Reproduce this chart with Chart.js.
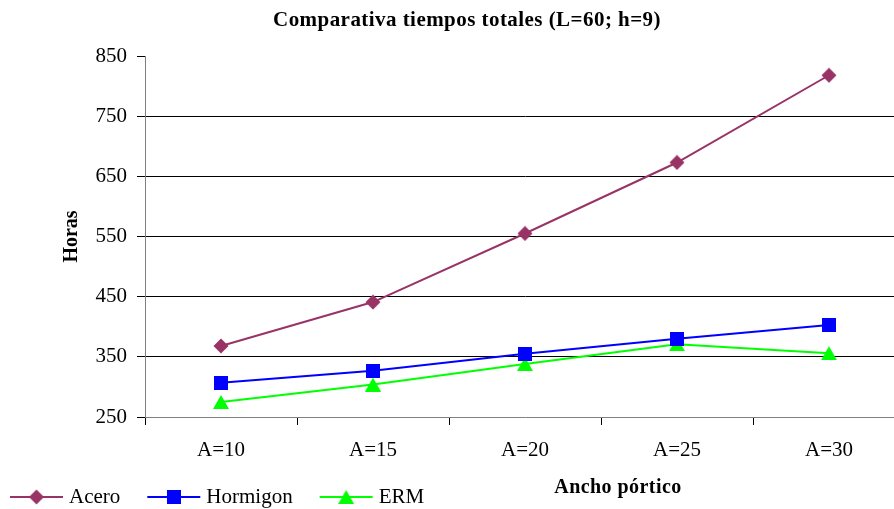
<!DOCTYPE html>
<html>
<head>
<meta charset="utf-8">
<script src="https://cdn.jsdelivr.net/npm/chart.js@4/dist/chart.umd.min.js"></script>
<style>
  html, body { margin: 0; padding: 0; background: #fff; overflow: hidden; }
  #wrap { width: 894px; height: 509px; overflow: hidden; position: relative; }
  canvas { display: block; }
</style>
</head>
<body>
<div id="wrap"><canvas id="c" width="940" height="509"></canvas></div>
<script>
// Categories and series (horas)
const categories = ['A=10', 'A=15', 'A=20', 'A=25', 'A=30'];
const acero = [368, 441, 555, 673, 818];
const hormigon = [307, 327, 355, 380, 403];
const erm = [275, 304, 338, 371, 356];
const yTicks = [250, 350, 450, 550, 650, 750, 850];

const SERIF = "'Liberation Serif', 'Times New Roman', serif";
const COL_ACERO = '#993366';
const COL_HORM = '#0000FF';
const COL_ERM = '#00FF00';

// Marker sprites, each centred on its bounding box
function makeMarker(kind, color) {
  const c = document.createElement('canvas');
  const ctx = c.getContext('2d');
  if (kind === 'diamond') {
    c.width = 16; c.height = 16;
    ctx.fillStyle = color;
    ctx.beginPath();
    ctx.moveTo(8, 0.5); ctx.lineTo(15.5, 8); ctx.lineTo(8, 15.5); ctx.lineTo(0.5, 8);
    ctx.closePath(); ctx.fill();
  } else if (kind === 'square') {
    c.width = 14; c.height = 14;
    ctx.fillStyle = color;
    ctx.fillRect(0, 0, 14, 14);
  } else {
    c.width = 16; c.height = 14;
    ctx.fillStyle = color;
    ctx.beginPath();
    ctx.moveTo(8, 0); ctx.lineTo(16, 14); ctx.lineTo(0, 14);
    ctx.closePath(); ctx.fill();
  }
  return c;
}
const mkAcero = makeMarker('diamond', COL_ACERO);
const mkHorm = makeMarker('square', COL_HORM);
const mkErm = makeMarker('triangle', COL_ERM);

// Title, x-axis caption and legend row drawn on top of the chart
const decorations = {
  id: 'decorations',
  afterDraw(chart) {
    const ctx = chart.ctx;
    ctx.save();
    ctx.fillStyle = '#000';
    ctx.textBaseline = 'middle';
    ctx.textAlign = 'center';
    ctx.font = 'bold 21px ' + SERIF;
    if ('letterSpacing' in ctx) ctx.letterSpacing = '0.45px';
    ctx.fillText('Comparativa tiempos totales (L=60; h=9)', 467, 21);
    ctx.font = 'bold 20px ' + SERIF;
    ctx.fillText('Ancho pórtico', 618, 488);
    if ('letterSpacing' in ctx) ctx.letterSpacing = '0px';

    // legend
    ctx.font = '21px ' + SERIF;
    ctx.textAlign = 'left';
    const ly = 497;
    let x = 10;
    chart.data.datasets.forEach(ds => {
      ctx.strokeStyle = ds.borderColor;
      ctx.lineWidth = 2;
      ctx.beginPath();
      ctx.moveTo(x, ly); ctx.lineTo(x + 53, ly);
      ctx.stroke();
      const m = ds.pointStyle;
      ctx.drawImage(m, x + 26.5 - m.width / 2, ly - m.height / 2);
      ctx.fillStyle = '#000';
      ctx.fillText(ds.label, x + 59, ly);
      x += 59 + ctx.measureText(ds.label).width + 27;
    });
    ctx.restore();
  }
};

new Chart(document.getElementById('c'), {
  type: 'line',
  data: {
    labels: categories,
    datasets: [
      { label: 'Acero', data: acero, borderColor: COL_ACERO, backgroundColor: COL_ACERO,
        borderWidth: 2, pointStyle: mkAcero, pointRadius: 8, pointBorderWidth: 0 },
      { label: 'Hormigon', data: hormigon, borderColor: COL_HORM, backgroundColor: COL_HORM,
        borderWidth: 2, pointStyle: mkHorm, pointRadius: 8, pointBorderWidth: 0 },
      { label: 'ERM', data: erm, borderColor: COL_ERM, backgroundColor: COL_ERM,
        borderWidth: 2, pointStyle: mkErm, pointRadius: 8, pointBorderWidth: 0 }
    ]
  },
  options: {
    responsive: false,
    animation: false,
    events: [],
    devicePixelRatio: 1,
    layout: { padding: { left: 0, right: 35, top: 56, bottom: 30 } },
    plugins: {
      legend: { display: false },
      title: { display: false },
      tooltip: { enabled: false }
    },
    scales: {
      x: {
        type: 'category',
        offset: true,
        grid: { offset: true, drawOnChartArea: false, drawTicks: true, tickLength: 8, tickColor: '#000', lineWidth: 1 },
        border: { display: true, color: '#808080', width: 1 },
        ticks: { color: '#000', font: { family: SERIF, size: 21 }, padding: 13, maxRotation: 0 },
        afterFit(scale) { scale.height = 62; }
      },
      y: {
        min: 250,
        max: 850,
        afterBuildTicks(scale) { scale.ticks = yTicks.map(v => ({ value: v })); },
        grid: {
          color: ctx => (ctx.tick && (ctx.tick.value === 850 || ctx.tick.value === 250)) ? 'rgba(0,0,0,0)' : '#000',
          tickColor: '#000', tickLength: 8, lineWidth: 1
        },
        border: { display: true, color: '#808080', width: 1 },
        ticks: { color: '#000', font: { family: SERIF, size: 21 }, padding: 10 },
        title: { display: true, text: 'Horas', color: '#000',
                 font: { family: SERIF, size: 20, weight: 'bold' }, padding: { top: 60, bottom: 0 } },
        afterFit(scale) { scale.width = 145; }
      }
    }
  },
  plugins: [decorations]
});
</script>
</body>
</html>
